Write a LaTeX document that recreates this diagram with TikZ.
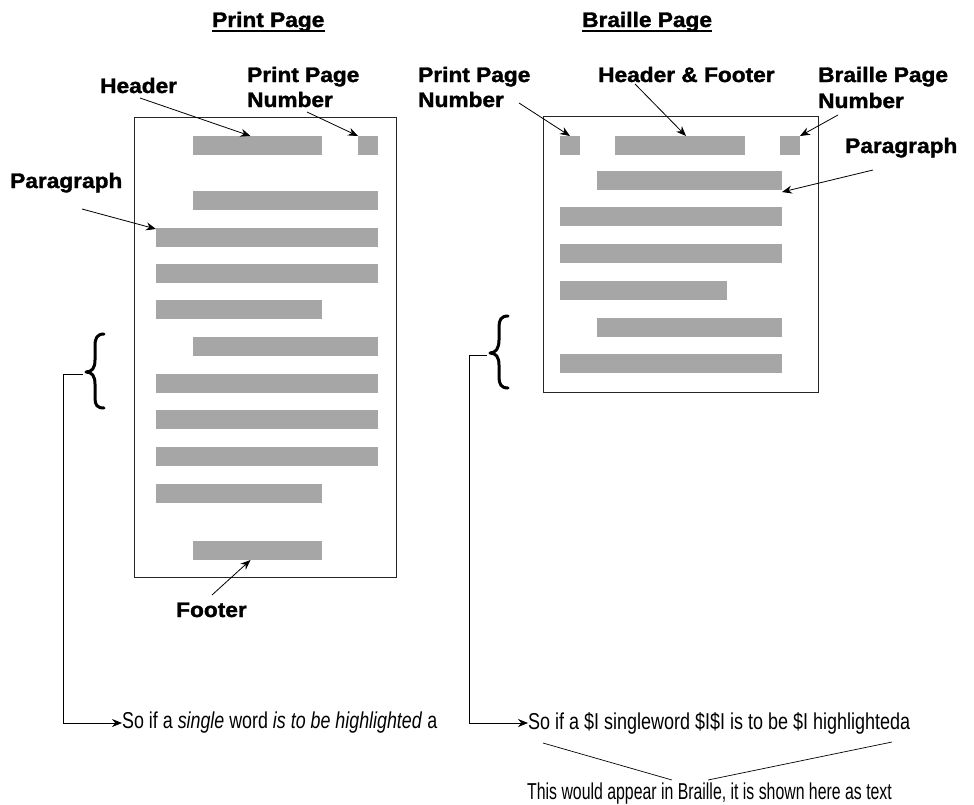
\documentclass[tikz,border=0pt]{standalone}
\usepackage{fontspec}
\setmainfont{Liberation Sans}
\newfontfamily\lblfont[FakeStretch=1.08,FakeBold=1.6]{Liberation Sans}
\usetikzlibrary{arrows.meta}

\begin{document}
\begin{tikzpicture}[x=1pt,y=-1pt,
  bar/.style={fill=black!35, draw=none, inner sep=0pt, outer sep=0pt, anchor=north west, minimum height=19pt},
  page/.style={draw=black!85, line width=0.8pt},
  lbl/.style={font=\lblfont\bfseries\fontsize{21}{25}\selectfont, inner sep=0pt, anchor=base west},
  txt/.style={font=\fontsize{23}{27}\selectfont, inner sep=0pt, anchor=base west},
  pointer/.style={-{Stealth[length=10pt,width=8pt]}, line width=0.8pt},
  thinline/.style={line width=0.7pt},
  brace/.style={line width=3pt, line cap=round, line join=round}
]
\useasboundingbox (0,0) rectangle (974,804);

% ---------- titles ----------
\node[lbl] (tp) at (212,27) {Print Page};
\node[lbl] (tb) at (582,27) {Braille Page};
\draw[line width=1.3pt] ([yshift=-4pt]tp.base west) -- ([yshift=-4pt]tp.base east);
\draw[line width=1.3pt] ([yshift=-4pt]tb.base west) -- ([yshift=-4pt]tb.base east);

% ---------- print page ----------
\draw[page] (134,117) rectangle (396,577);
\node[bar, minimum width=129pt] (ph) at (193,136) {};
\node[bar, minimum width=20pt]  (pn) at (358,136) {};
\node[bar, minimum width=185pt] (p1) at (193,191) {};
\node[bar, minimum width=222pt] (p2) at (156,228) {};
\node[bar, minimum width=222pt] (p3) at (156,264) {};
\node[bar, minimum width=166pt] (p4) at (156,300) {};
\node[bar, minimum width=185pt] (p5) at (193,337) {};
\node[bar, minimum width=222pt] (p6) at (156,374) {};
\node[bar, minimum width=222pt] (p7) at (156,410) {};
\node[bar, minimum width=222pt] (p8) at (156,447) {};
\node[bar, minimum width=166pt] (p9) at (156,484) {};
\node[bar, minimum width=129pt] (pf) at (193,541) {};

\node[lbl] (lhead) at (100,93) {Header};
\node[lbl] (lppn1) at (247,82) {Print Page};
\node[lbl] (lppn2) at (247,107) {Number};
\node[lbl] (lpar) at (10,188) {Paragraph};
\node[lbl] (lfoot) at (176,617) {Footer};

\coordinate (ahead) at (140,98);
\coordinate (appn) at (307,112);
\coordinate (apar) at (82,209);
\coordinate (afoot) at (212,595);
\draw[pointer] (ahead) -- ([xshift=-7pt]ph.north);
\draw[pointer] (appn) -- (pn.north west);
\draw[pointer] (apar) -- ([yshift=-1pt]p2.north west);
\draw[pointer] (afoot) -- ([xshift=-7pt]pf.south);

% ---------- braille page ----------
\draw[page] (543,116) rectangle (818,392);
\node[bar, minimum width=20pt]  (bpn) at (560,136) {};
\node[bar, minimum width=130pt] (bh) at (615,136) {};
\node[bar, minimum width=20pt]  (bbn) at (780,136) {};
\node[bar, minimum width=185pt] (b1) at (597,171) {};
\node[bar, minimum width=222pt] (b2) at (560,207) {};
\node[bar, minimum width=222pt] (b3) at (560,244) {};
\node[bar, minimum width=167pt] (b4) at (560,281) {};
\node[bar, minimum width=185pt] (b5) at (597,318) {};
\node[bar, minimum width=222pt] (b6) at (560,354) {};

\node[lbl] (rppn1) at (418,82) {Print Page};
\node[lbl] (rppn2) at (418,107) {Number};
\node[lbl] (rhf) at (598,82) {Header \& Footer};
\node[lbl] (rbpn1) at (818,82) {Braille Page};
\node[lbl] (rbpn2) at (818,108) {Number};
\node[lbl] (rpar) at (845,153) {Paragraph};

\coordinate (bppn) at (519,103);
\coordinate (bhf) at (635,84);
\coordinate (bbpn) at (838,115);
\coordinate (bpar) at (873,170);
\draw[pointer] (bppn) -- (bpn.north);
\draw[pointer] (bhf) -- ([xshift=6pt]bh.north);
\draw[pointer] (bbpn) -- (bbn.north east);
\draw[pointer] (bpar) -- ([yshift=-2pt]b1.south east);

% ---------- braces and their leaders ----------
\draw[brace] (104,334) .. controls (97,334) and (95,338) .. (95,346) -- (95,360)
  .. controls (95,368) and (92,372) .. (86,372)
  .. controls (92,372) and (95,376) .. (95,384) -- (95,398)
  .. controls (95,405) and (97,408) .. (104,408);
\draw[brace] (508,316) .. controls (501,316) and (499,320) .. (499,327) -- (499,340)
  .. controls (499,348) and (496,353) .. (490,353)
  .. controls (496,353) and (499,357) .. (499,365) -- (499,377)
  .. controls (499,384) and (501,388) .. (508,388);

\node[txt] (lt) at (122,728) {\scalebox{0.776}[1]{So if a \textit{single} word \textit{is to be highlighted} a}};
\node[txt] (rt) at (528,729) {\scalebox{0.782}[1]{So if a \$I singleword \$I\$I is to be \$I highlighteda}};
\node[txt] (et) at (527,799) {\scalebox{0.689}[1]{This would appear in Braille, it is shown here as text}};

\coordinate (lbr) at (83,374);
\coordinate (lcorner) at (63,723);
\coordinate (rbr) at (487,355);
\coordinate (rcorner) at (469,723);
\draw[pointer, thinline] (lbr) -| (lcorner) -- (lt.west |- lcorner);
\draw[pointer, thinline] (rbr) -| (rcorner) -- (rt.west |- rcorner);

% ---------- note under the braille line ----------
\coordinate (va) at (543,743);
\coordinate (vb) at (672,780);
\coordinate (vc) at (708,780);
\coordinate (vd) at (892,742);
\draw[thinline] (va) -- (vb);
\draw[thinline] (vc) -- (vd);
\end{tikzpicture}
\end{document}
